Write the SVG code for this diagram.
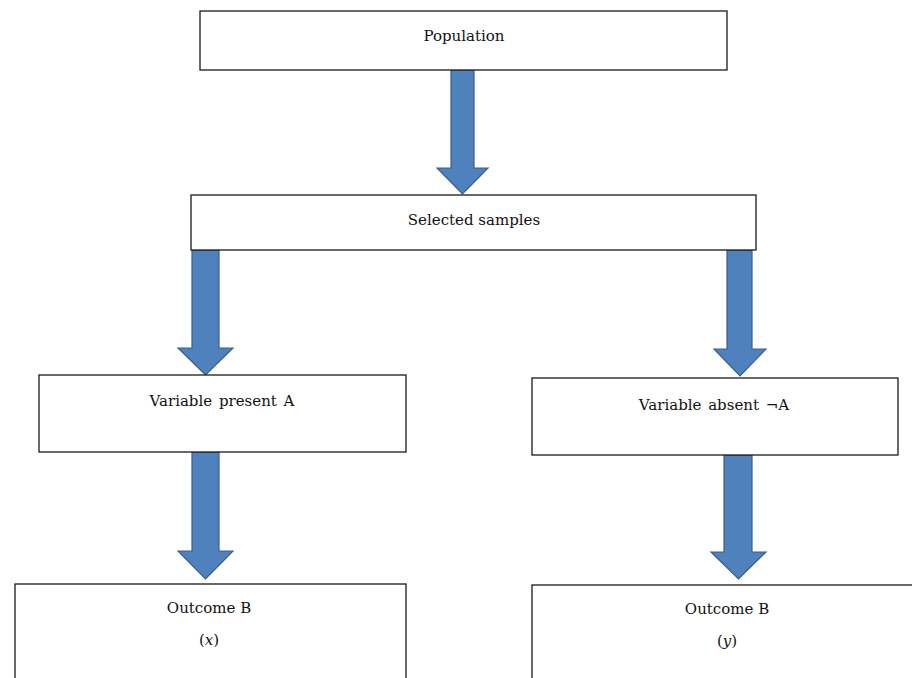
<svg xmlns="http://www.w3.org/2000/svg" width="912" height="678" viewBox="0 0 912 678">
<style>
.box{fill:#fff;stroke:#1a1a1a;stroke-width:1.3}
.arr{fill:#4f81bd;stroke:#3b5f8a;stroke-width:1.2;stroke-linejoin:miter}
text{font-family:"DejaVu Serif","Liberation Serif",serif;font-size:15px;fill:#111;text-anchor:middle}
.it{font-style:italic}
</style>
<rect width="912" height="678" fill="#fff"/>
<g id="connectors">
<polygon class="arr" points="451,70 474,70 474,168 488,168 462.5,194 437,168 451,168"/>
<polygon class="arr" points="192,250 219,250 219,348 233,348 205.5,375 178,348 192,348"/>
<polygon class="arr" points="727,250 752,250 752,349 766,349 740,376 714,349 727,349"/>
<polygon class="arr" points="192,452 219,452 219,551 233,551 205.5,579 178,551 192,551"/>
<polygon class="arr" points="724,455 752,455 752,552 766,552 738.5,579 711,552 724,552"/>
</g>
<g id="population">
<rect class="box" x="200" y="11" width="527" height="59"/>
<text x="464" y="41">Population</text>
</g>
<g id="selected">
<rect class="box" x="191" y="195" width="565" height="55"/>
<text x="474" y="225">Selected samples</text>
</g>
<g id="present">
<rect class="box" x="39" y="375" width="367" height="77"/>
<text x="222" y="406" word-spacing="2">Variable present A</text>
</g>
<g id="absent">
<rect class="box" x="532" y="378" width="366" height="77"/>
<text x="714" y="410" word-spacing="2">Variable absent ¬A</text>
</g>
<g id="outcomeX">
<rect class="box" x="15" y="584" width="391" height="100"/>
<text x="209" y="613">Outcome B</text>
<text x="209" y="645">(<tspan class="it">x</tspan>)</text>
</g>
<g id="outcomeY">
<rect class="box" x="532" y="585" width="390" height="100"/>
<text x="727" y="614">Outcome B</text>
<text x="727" y="646">(<tspan class="it">y</tspan>)</text>
</g>
</svg>
